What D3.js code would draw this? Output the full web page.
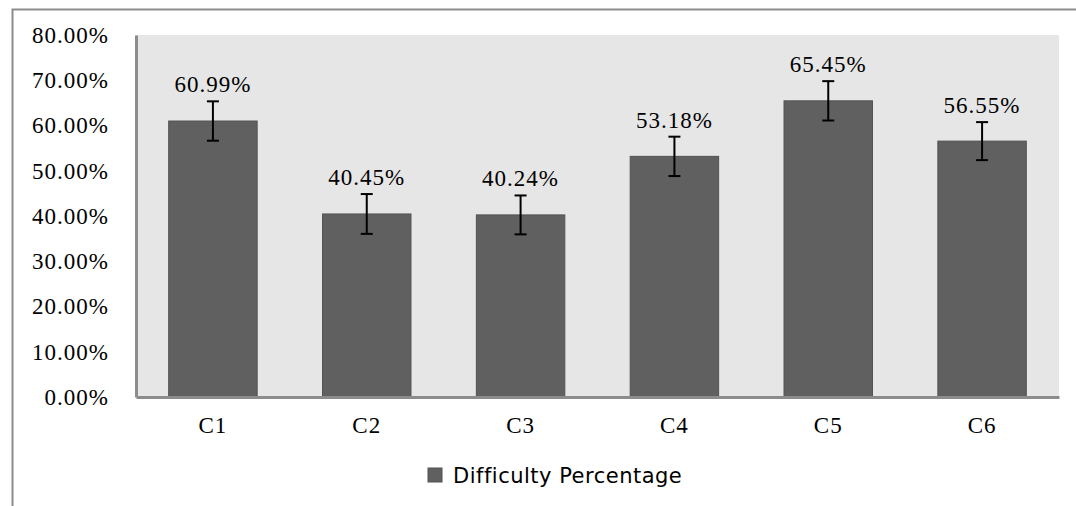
<!DOCTYPE html>
<html>
<head>
<meta charset="utf-8">
<script src="https://cdn.jsdelivr.net/npm/d3@7"></script>
<style>
  body { margin: 0; background: #fff; }
  svg { display: block; }
</style>
</head>
<body>
<script>
// chart data
const categories = ["C1", "C2", "C3", "C4", "C5", "C6"];
const values = [60.99, 40.45, 40.24, 53.18, 65.45, 56.55];
const errors = [4.35, 4.4, 4.3, 4.35, 4.35, 4.2];
const yTicks = [0, 10, 20, 30, 40, 50, 60, 70, 80];
const seriesName = "Difficulty Percentage";

const width = 1076, height = 506;
const plot = { left: 136, top: 35, right: 1059, bottom: 397 };
const serif = "23px 'Liberation Serif', 'Times New Roman', serif";

const svg = d3.select("body").append("svg")
    .attr("width", width)
    .attr("height", height);

// outer chart border (only top/left show in frame)
svg.append("path")
    .attr("d", `M12.5,${height + 5} L12.5,9.5 L${width + 5},9.5`)
    .attr("fill", "none")
    .attr("stroke", "#8c8c8c")
    .attr("stroke-width", 2);

const x = d3.scaleBand()
    .domain(categories)
    .range([plot.left, plot.right])
    .paddingInner(0.425)
    .paddingOuter(0.2125);

const y = d3.scaleLinear()
    .domain([0, 80])
    .range([plot.bottom, plot.top]);

// plot area background
svg.append("rect")
    .attr("x", plot.left)
    .attr("y", plot.top)
    .attr("width", plot.right - plot.left)
    .attr("height", plot.bottom - plot.top)
    .attr("fill", "#e6e6e6");

// bars
svg.selectAll(".bar")
    .data(categories)
    .enter().append("rect")
    .attr("class", "bar")
    .attr("x", d => x(d))
    .attr("y", (d, i) => y(values[i]))
    .attr("width", x.bandwidth())
    .attr("height", (d, i) => y(0) - y(values[i]))
    .attr("fill", "#606060")
    .attr("stroke", "#525252")
    .attr("stroke-width", 1);

// error bars
const eb = svg.selectAll(".err")
    .data(categories)
    .enter().append("g")
    .attr("class", "err")
    .attr("stroke", "#000")
    .attr("stroke-width", 2);

eb.append("line")
    .attr("x1", d => x(d) + x.bandwidth() / 2)
    .attr("x2", d => x(d) + x.bandwidth() / 2)
    .attr("y1", (d, i) => y(values[i] + errors[i]))
    .attr("y2", (d, i) => y(values[i] - errors[i]));
eb.append("line")
    .attr("x1", d => x(d) + x.bandwidth() / 2 - 6)
    .attr("x2", d => x(d) + x.bandwidth() / 2 + 6)
    .attr("y1", (d, i) => y(values[i] + errors[i]))
    .attr("y2", (d, i) => y(values[i] + errors[i]));
eb.append("line")
    .attr("x1", d => x(d) + x.bandwidth() / 2 - 6)
    .attr("x2", d => x(d) + x.bandwidth() / 2 + 6)
    .attr("y1", (d, i) => y(values[i] - errors[i]))
    .attr("y2", (d, i) => y(values[i] - errors[i]));

// value labels
svg.selectAll(".val")
    .data(categories)
    .enter().append("text")
    .attr("class", "val")
    .attr("x", d => x(d) + x.bandwidth() / 2)
    .attr("y", (d, i) => y(values[i] + errors[i]) - 9)
    .attr("text-anchor", "middle")
    .style("font", serif)
    .style("letter-spacing", "1px")
    .style("fill", "#000")
    .text((d, i) => values[i].toFixed(2) + "%");

// y axis
const yAxis = svg.append("g")
    .attr("transform", `translate(${plot.left},0)`)
    .call(d3.axisLeft(y).tickValues(yTicks).tickSize(0).tickPadding(27)
        .tickFormat(d => d.toFixed(2) + "%"));
yAxis.select(".domain").attr("stroke", "#8c8c8c").attr("stroke-width", 3);
yAxis.selectAll("text")
    .style("font", serif)
    .style("letter-spacing", "1px")
    .attr("fill", "#000");

// x axis
const xAxis = svg.append("g")
    .attr("transform", `translate(0,${plot.bottom})`)
    .call(d3.axisBottom(x).tickSize(0).tickPadding(20));
xAxis.select(".domain").attr("stroke", "#8c8c8c").attr("stroke-width", 3);
xAxis.selectAll("text")
    .style("font", serif)
    .style("letter-spacing", "1px")
    .attr("fill", "#000");

// legend
const legend = svg.append("g").attr("transform", "translate(428,468)");
legend.append("rect")
    .attr("width", 14)
    .attr("height", 14)
    .attr("fill", "#606060")
    .attr("stroke", "#525252");
legend.append("text")
    .attr("x", 25)
    .attr("y", 15)
    .style("font", "21px 'DejaVu Sans', sans-serif")
    .style("letter-spacing", "0.5px")
    .attr("fill", "#000")
    .text(seriesName);
</script>
</body>
</html>
